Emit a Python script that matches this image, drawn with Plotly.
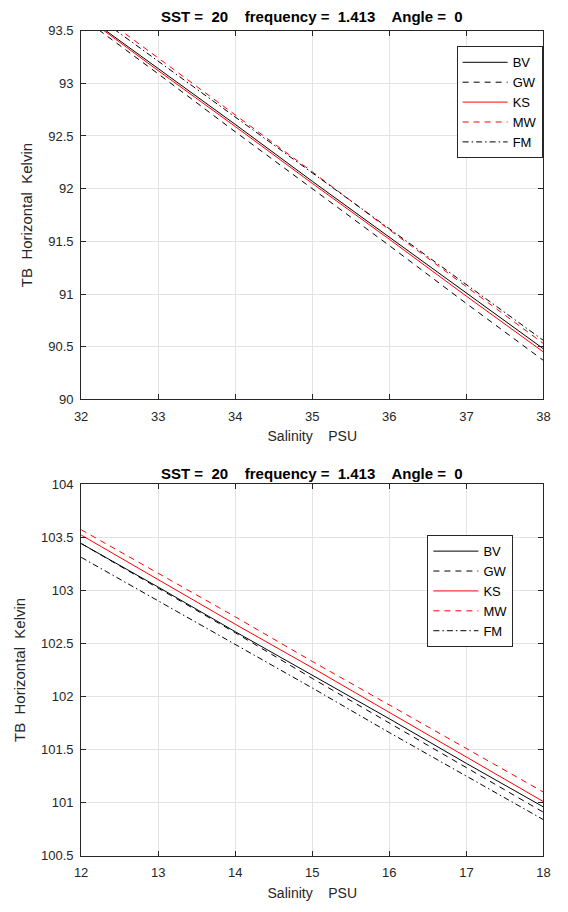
import plotly.graph_objects as go

# ---------------- data ----------------
sal_top = [32, 33, 34, 35, 36, 37, 38]
top_BV = [93.67, 93.14, 92.61, 92.07, 91.54, 91.01, 90.48]
top_GW = [93.63, 93.09, 92.54, 92.00, 91.46, 90.91, 90.37]
top_KS = [93.66, 93.12, 92.59, 92.05, 91.52, 90.98, 90.45]
top_MW = [93.78, 93.24, 92.70, 92.16, 91.61, 91.07, 90.53]
top_FM = [93.74, 93.21, 92.68, 92.15, 91.62, 91.09, 90.56]

sal_bot = [12, 13, 14, 15, 16, 17, 18]
bot_BV = [103.44, 103.03, 102.61, 102.20, 101.79, 101.37, 100.96]
bot_GW = [103.44, 103.02, 102.60, 102.17, 101.75, 101.33, 100.91]
bot_KS = [103.52, 103.10, 102.68, 102.27, 101.85, 101.43, 101.01]
bot_MW = [103.57, 103.16, 102.75, 102.33, 101.92, 101.51, 101.10]
bot_FM = [103.31, 102.90, 102.49, 102.08, 101.66, 101.25, 100.84]

series_names = ["BV", "GW", "KS", "MW", "FM"]

top_yticks = [90, 90.5, 91, 91.5, 92, 92.5, 93, 93.5]
top_yticklabels = ["90", "90.5", "91", "91.5", "92", "92.5", "93", "93.5"]
bot_yticks = [100.5, 101, 101.5, 102, 102.5, 103, 103.5, 104]
bot_yticklabels = ["100.5", "101", "101.5", "102", "102.5", "103", "103.5", "104"]

title_text = "SST =\u00a0 20 \u00a0\u00a0 frequency =\u00a0 1.413 \u00a0\u00a0 Angle =\u00a0 0"
xlabel = "Salinity \u00a0\u00a0 PSU"
ylabel = "TB \u00a0Horizontal \u00a0Kelvin"

# ---------------- styles ----------------
styles = {
    "BV": dict(color="#000000", dash="solid"),
    "GW": dict(color="#000000", dash="6px,5px"),
    "KS": dict(color="#ff0000", dash="solid"),
    "MW": dict(color="#ff0000", dash="6px,5px"),
    "FM": dict(color="#000000", dash="6px,3px,1.5px,3px"),
}

W, H = 568, 912
fig = go.Figure()

top_data = dict(BV=top_BV, GW=top_GW, KS=top_KS, MW=top_MW, FM=top_FM)
bot_data = dict(BV=bot_BV, GW=bot_GW, KS=bot_KS, MW=bot_MW, FM=bot_FM)

for n in series_names:
    fig.add_trace(go.Scatter(x=sal_top, y=top_data[n], mode="lines", name=n,
                             line=dict(width=1, **styles[n]),
                             xaxis="x", yaxis="y", legend="legend"))
for n in series_names:
    fig.add_trace(go.Scatter(x=sal_bot, y=bot_data[n], mode="lines", name=n,
                             line=dict(width=1, **styles[n]),
                             xaxis="x2", yaxis="y2", legend="legend2"))

axcol = "#262626"
gridcol = "#e3e3e3"
font_family = "Liberation Sans, Arial, sans-serif"

x_dom = [76 / W, 550 / W]
top_dom = [1 - 399 / H, 1 - 24 / H]
bot_dom = [1 - 863 / H, 1 - 485 / H]

def xax(dom_anchor, rng, ticks):
    return dict(domain=x_dom, anchor=dom_anchor, range=rng, tickvals=ticks,
                ticktext=[str(t) for t in ticks],
                showline=True, linecolor=axcol, linewidth=1, mirror="allticks",
                ticks="inside", ticklen=5, tickcolor=axcol, ticklabelstandoff=5,
                showgrid=True, gridcolor=gridcol, gridwidth=1, zeroline=False,
                tickfont=dict(size=13, color=axcol, family=font_family),
                title=dict(text=xlabel, font=dict(size=14, color=axcol, family=font_family), standoff=8))

def yax(dom_anchor, dom, rng, ticks, labels):
    return dict(domain=dom, anchor=dom_anchor, range=rng, tickvals=ticks, ticktext=labels,
                showline=True, linecolor=axcol, linewidth=1, mirror="allticks",
                ticks="inside", ticklen=5, tickcolor=axcol, ticklabelstandoff=4,
                showgrid=True, gridcolor=gridcol, gridwidth=1, zeroline=False,
                tickfont=dict(size=13, color=axcol, family=font_family),
                title=dict(text=ylabel, font=dict(size=15, color=axcol, family=font_family), standoff=11))

legend_common = dict(bgcolor="white", bordercolor=axcol, borderwidth=1,
                     font=dict(size=13, color="#000000", family=font_family),
                     xanchor="left", yanchor="top", tracegroupgap=0, itemwidth=45)

fig.update_layout(
    width=W, height=H,
    margin=dict(l=0, r=0, t=0, b=0),
    paper_bgcolor="white", plot_bgcolor="white",
    font=dict(family=font_family, color=axcol),
    showlegend=True,
    xaxis=xax("y", [32, 38], sal_top),
    yaxis=yax("x", top_dom, [90, 93.5], top_yticks, top_yticklabels),
    xaxis2=xax("y2", [12, 18], sal_bot),
    yaxis2=yax("x2", bot_dom, [100.5, 104], bot_yticks, bot_yticklabels),
    legend=dict(x=461 / W, y=1 - 40 / H, **legend_common),
    legend2=dict(x=431 / W, y=1 - 537 / H, **legend_common),
    annotations=[
        dict(text="<b>" + title_text + "</b>", x=(x_dom[0] + x_dom[1]) / 2, y=1 - 10 / H,
             xref="paper", yref="paper", xanchor="center", yanchor="middle", showarrow=False,
             font=dict(size=15, color="#000000", family=font_family)),
        dict(text="<b>" + title_text + "</b>", x=(x_dom[0] + x_dom[1]) / 2, y=1 - 474 / H,
             xref="paper", yref="paper", xanchor="center", yanchor="middle", showarrow=False,
             font=dict(size=15, color="#000000", family=font_family)),
    ],
)

fig.write_html("out.html")
